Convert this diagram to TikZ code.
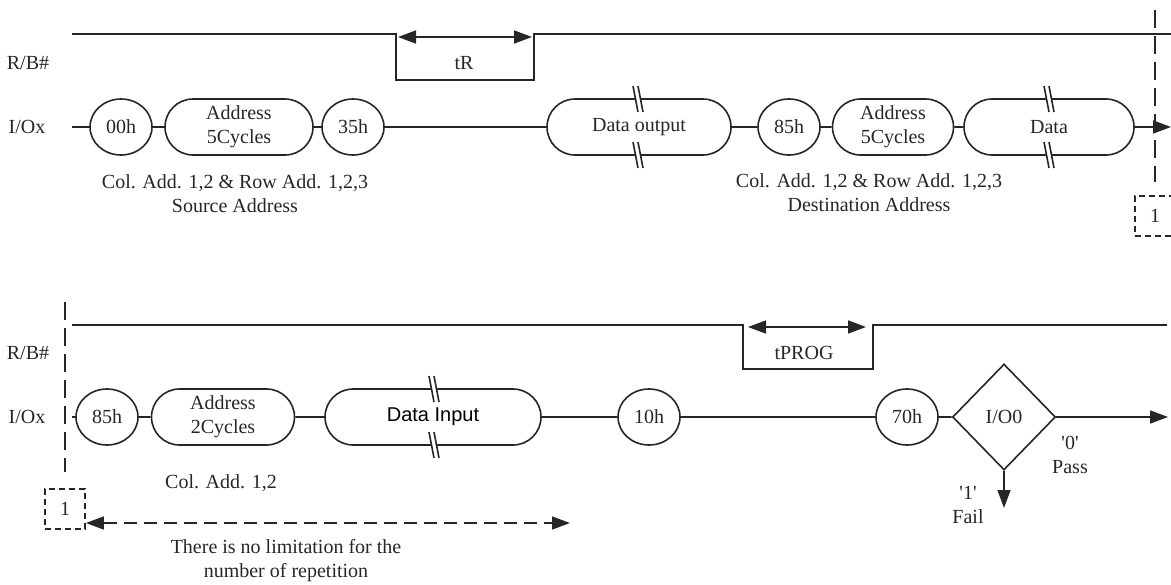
\documentclass[tikz,border=0pt]{standalone}
\usepackage{fontspec}
\setmainfont{Liberation Serif}
\setsansfont{Liberation Sans}
\usepackage{tikz}
\usetikzlibrary{positioning,arrows.meta,shapes.geometric,shapes.misc}

\begin{document}
\begin{tikzpicture}[
	x=0.5pt, y=-0.5pt,
	every node/.style={font=\fontsize{10}{12}\selectfont, text=black!85},
	sig/.style={draw=black!85, line width=0.8pt},
	byte/.style={ellipse, draw=black!85, line width=0.8pt,
		minimum width=31pt, minimum height=28pt, inner sep=0pt},
	seg/.style={rounded rectangle, draw=black!85, line width=0.8pt,
		minimum height=28pt, inner sep=0pt, align=center},
	guide/.style={draw=black!85, line width=1pt, dash pattern=on 9pt off 4pt},
	tag/.style={draw=black!85, line width=0.9pt, dash pattern=on 3pt off 2pt,
		minimum width=20pt, minimum height=20pt, inner sep=0pt},
	>={Triangle[length=9pt,width=6.5pt]}
	]
	\useasboundingbox (0,0) rectangle (1171,584);

	% first sequence: read for copy-back
	\node (rb1) at (28,63) {R/B\#};
	\node (io1) at (27,127) {I/Ox};
	\coordinate (busyA) at (396,80);
	\coordinate (busyB) at (534,80);
	\draw[sig] (72,34) -| (busyA) -- (busyB) |- (1171,34);
	\coordinate (tra) at (398,37);
	\coordinate (trb) at (532,37);
	\draw[sig,<->] (tra) -- (trb);
	\node (tr) at (464,63) {tR};

	\coordinate (s1) at (72,127);
	\node[byte] (c00) at (121,127) {00h};
	\node[seg, minimum width=74pt] (adr1) at (239,127) {Address\\5Cycles};
	\node[byte] (c35) at (353,127) {35h};
	\node[seg, minimum width=92pt] (dout) at (639,127) {Data output};
	\node[byte] (c85a) at (789,127) {85h};
	\node[seg, minimum width=60.5pt] (adr2) at (893,127) {Address\\5Cycles};
	\node[seg, minimum width=85pt] (dat) at (1049,127) {Data};
	\coordinate (e1) at (1171,127);
	\draw[sig] (s1) -- (c00) -- (adr1) -- (c35) -- (dout) -- (c85a) -- (adr2) -- (dat);
	\draw[sig,->] (dat) -- (e1);

	\node[align=center] (src) at (235,194) {Col. Add. 1,2 \& Row Add. 1,2,3\\Source Address};
	\node[align=center] (dst) at (869,193) {Col. Add. 1,2 \& Row Add. 1,2,3\\Destination Address};

	% continuation mark
	\coordinate (g1) at (1155,10);
	\node[tag] (rep1) at (1155,216) {1};
	\draw[guide, shorten >=6.5pt] (g1) -- (rep1);

	% second sequence: random data input and program
	\node (rb2) at (28,353) {R/B\#};
	\node (io2) at (27,417) {I/Ox};
	\coordinate (busyC) at (743,369);
	\coordinate (busyD) at (873,369);
	\draw[sig] (72,325) -| (busyC) -- (busyD) |- (1167,325);
	\coordinate (tpa) at (748,327);
	\coordinate (tpb) at (866,327);
	\draw[sig,<->] (tpa) -- (tpb);
	\node (tp) at (804,353) {tPROG};

	\coordinate (s2) at (72,417);
	\node[byte] (c85b) at (107,417) {85h};
	\node[seg, minimum width=71.5pt] (adr3) at (223,417) {Address\\2Cycles};
	\node[seg, minimum width=108pt, font=\sffamily\fontsize{10}{12}\selectfont, text=black] (din) at (433,417) {Data Input};
	\node[byte] (c10) at (649,417) {10h};
	\node[byte] (c70) at (907,417) {70h};
	\node[diamond, draw=black!85, line width=0.8pt, minimum width=51.5pt,
		minimum height=53pt, inner sep=0pt] (chk) at (1004,417) {I/O0};
	\coordinate (e2) at (1168,417);
	\coordinate (e3) at (1004,508);
	\draw[sig] (s2) -- (c85b) -- (adr3) -- (din) -- (c10) -- (c70) -- (chk);
	\draw[sig,->] (chk) -- (e2);
	\draw[sig,->] (chk) -- (e3);
	\node[align=center] (pass) at (1070,455) {\textquotesingle 0\textquotesingle\\Pass};
	\node[align=center] (fail) at (968,505) {\textquotesingle 1\textquotesingle\\Fail};
	\node (col) at (221,483) {Col. Add. 1,2};

	% repeat mark
	\coordinate (g2) at (65,302);
	\node[tag] (rep2) at (65,509) {1};
	\draw[guide, shorten >=8pt] (g2) -- (rep2);
	\coordinate (lim) at (570,523);
	\draw[sig, dash pattern=on 6.5pt off 3.5pt, <->] (rep2.east |- lim) -- (lim);
	\node[align=center] (note) at (286,561) {There is no limitation for the\\number of repetition};

	% tear marks on the data phases
	\foreach \bx/\by in {637/99,637/155,1048/99,1048/155,433/389,433/445}{
		\fill[white] (\bx-4,\by-13) -- (\bx+1,\by-13) -- (\bx+6,\by+13) -- (\bx+1,\by+13) -- cycle;
		\draw[black!85, line width=0.8pt] (\bx-4,\by-13) -- (\bx+1,\by+13) (\bx+1,\by-13) -- (\bx+6,\by+13);
	}
\end{tikzpicture}
\end{document}
